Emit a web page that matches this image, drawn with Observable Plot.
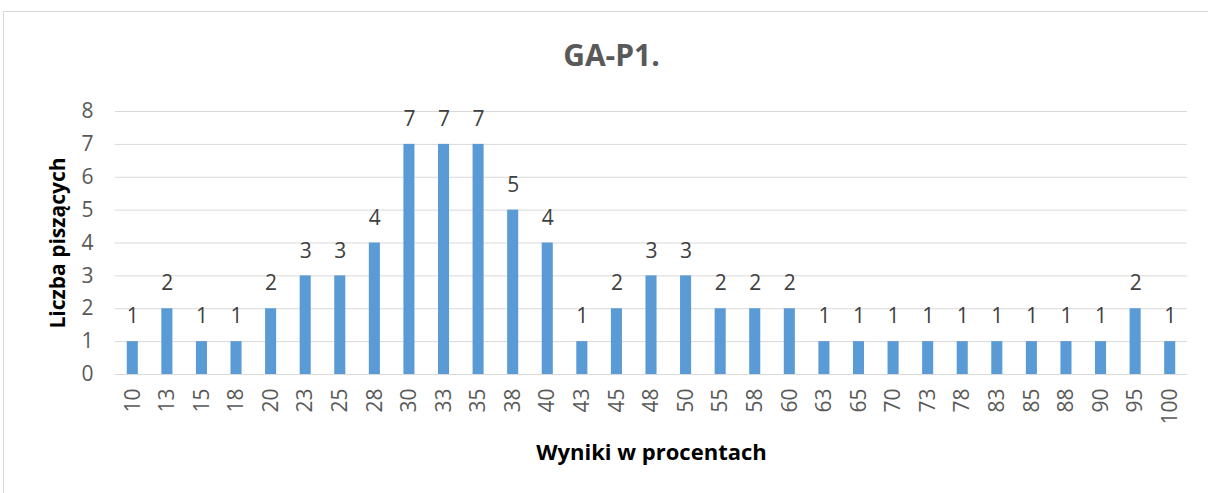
<!DOCTYPE html>
<html>
<head>
<meta charset="utf-8">
<script src="https://cdn.jsdelivr.net/npm/d3@7"></script>
<script src="https://cdn.jsdelivr.net/npm/@observablehq/plot@0.6"></script>
<style>
  html, body { margin: 0; padding: 0; background: #fff; }
  #wrap { position: relative; width: 1208px; height: 493px; overflow: hidden; }
  #border { position: absolute; left: 3px; top: 11px; width: 1220px; height: 500px;
            border-top: 1px solid #d9d9d9; border-left: 1px solid #d9d9d9; box-sizing: border-box; }
  #chart { position: absolute; left: 0; top: 0; }
</style>
</head>
<body>
<div id="wrap"><div id="border"></div><div id="chart"></div></div>
<script>
const categories = ["10","13","15","18","20","23","25","28","30","33","35","38","40","43","45","48","50","55","58","60","63","65","70","73","78","83","85","88","90","95","100"];
const values = [1,2,1,1,2,3,3,4,7,7,7,5,4,1,2,3,3,2,2,2,1,1,1,1,1,1,1,1,1,2,1];
const yTicks = [0,1,2,3,4,5,6,7,8];
const title = "GA-P1.";
const yLabel = "Liczba piszących";
const xLabel = "Wyniki w procentach";

const data = categories.map((c, i) => ({cat: c, val: values[i]}));
const font = "'Open Sans', 'DejaVu Sans', sans-serif";

const chart = Plot.plot({
  width: 1208,
  height: 493,
  marginLeft: 115,
  marginRight: 21,
  marginTop: 111,
  marginBottom: 119,
  style: {fontFamily: font, background: "transparent", overflow: "visible"},
  x: {type: "band", domain: categories, paddingInner: 0.68, paddingOuter: 0.34, align: 0.5, round: false},
  y: {domain: [0, 8]},
  marks: [
    Plot.gridY(yTicks, {stroke: "#d9d9d9", strokeOpacity: 1, strokeWidth: 1}),
    Plot.barY(data, {x: "cat", y: "val", fill: "#5b9bd5"}),
    Plot.text(data, {x: "cat", y: "val", text: d => String(d.val), dy: -25, fill: "#404040",
      fontSize: 21, textAnchor: "middle", lineAnchor: "middle"}),
    Plot.axisY({ticks: yTicks, tickSize: 0, tickPadding: 22, label: null, fontSize: 21, color: "#595959"}),
    Plot.axisX({tickSize: 0, tickPadding: 14, tickRotate: -90, label: null, fontSize: 21, color: "#595959"}),
    Plot.text([title], {frameAnchor: "top", dx: -40, dy: -55, text: d => d, fontSize: 30,
      fontWeight: "bold", fill: "#595959", textAnchor: "middle", lineAnchor: "middle"}),
    Plot.text([yLabel], {frameAnchor: "left", dx: -57, text: d => d, rotate: -90, fontSize: 21,
      fontWeight: "bold", fill: "#000", textAnchor: "middle", lineAnchor: "middle"}),
    Plot.text([xLabel], {frameAnchor: "bottom", dy: 78, text: d => d, fontSize: 22,
      fontWeight: "bold", fill: "#000", textAnchor: "middle", lineAnchor: "middle"})
  ]
});
document.getElementById("chart").appendChild(chart);
</script>
</body>
</html>
